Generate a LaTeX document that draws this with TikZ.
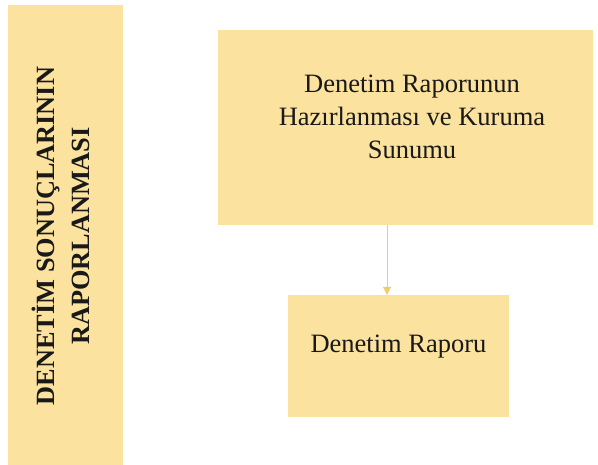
\documentclass[tikz,border=0pt]{standalone}
\usepackage{fontspec}
\setmainfont{Liberation Serif}
\usetikzlibrary{arrows.meta}
\definecolor{boxfill}{RGB}{251,226,158}
\definecolor{linkcol}{RGB}{242,205,95}
\begin{document}
\begin{tikzpicture}[x=1pt,y=-1pt,
  panel/.style={fill=boxfill, draw=none, inner sep=0pt},
  label/.style={inner sep=0pt, align=center, text=black!90},
  link/.style={draw=linkcol, line width=0.9pt, -{Triangle[width=8pt,length=8pt]}}]
\useasboundingbox (0,0) rectangle (598,465);
\fill[white] (0,0) rectangle (598,465);

% side band with the stage title
\node[panel, minimum width=115pt, minimum height=462pt] (side) at (65.5,236) {};
\node[label, rotate=90, font=\bfseries\fontsize{26.3}{35}\selectfont] (sidetext) at (60.5,236)
  {DENETİM SONUÇLARININ\\RAPORLANMASI};

% process step
\node[panel, minimum width=375pt, minimum height=195pt] (prep) at (405.5,127.5) {};
\node[label, font=\fontsize{26.5}{33}\selectfont] (preptext) at (412,116.5)
  {Denetim Raporunun\\Hazırlanması ve Kuruma\\Sunumu};

% output
\node[panel, minimum width=221pt, minimum height=122pt] (report) at (398.5,356) {};
\node[label, font=\fontsize{26.5}{33}\selectfont] (reporttext) at (398.5,346.6) {Denetim Raporu};

% connector
\coordinate (lx) at (387,0);
\draw[link] (prep.south -| lx) -- (report.north -| lx);
\end{tikzpicture}
\end{document}
